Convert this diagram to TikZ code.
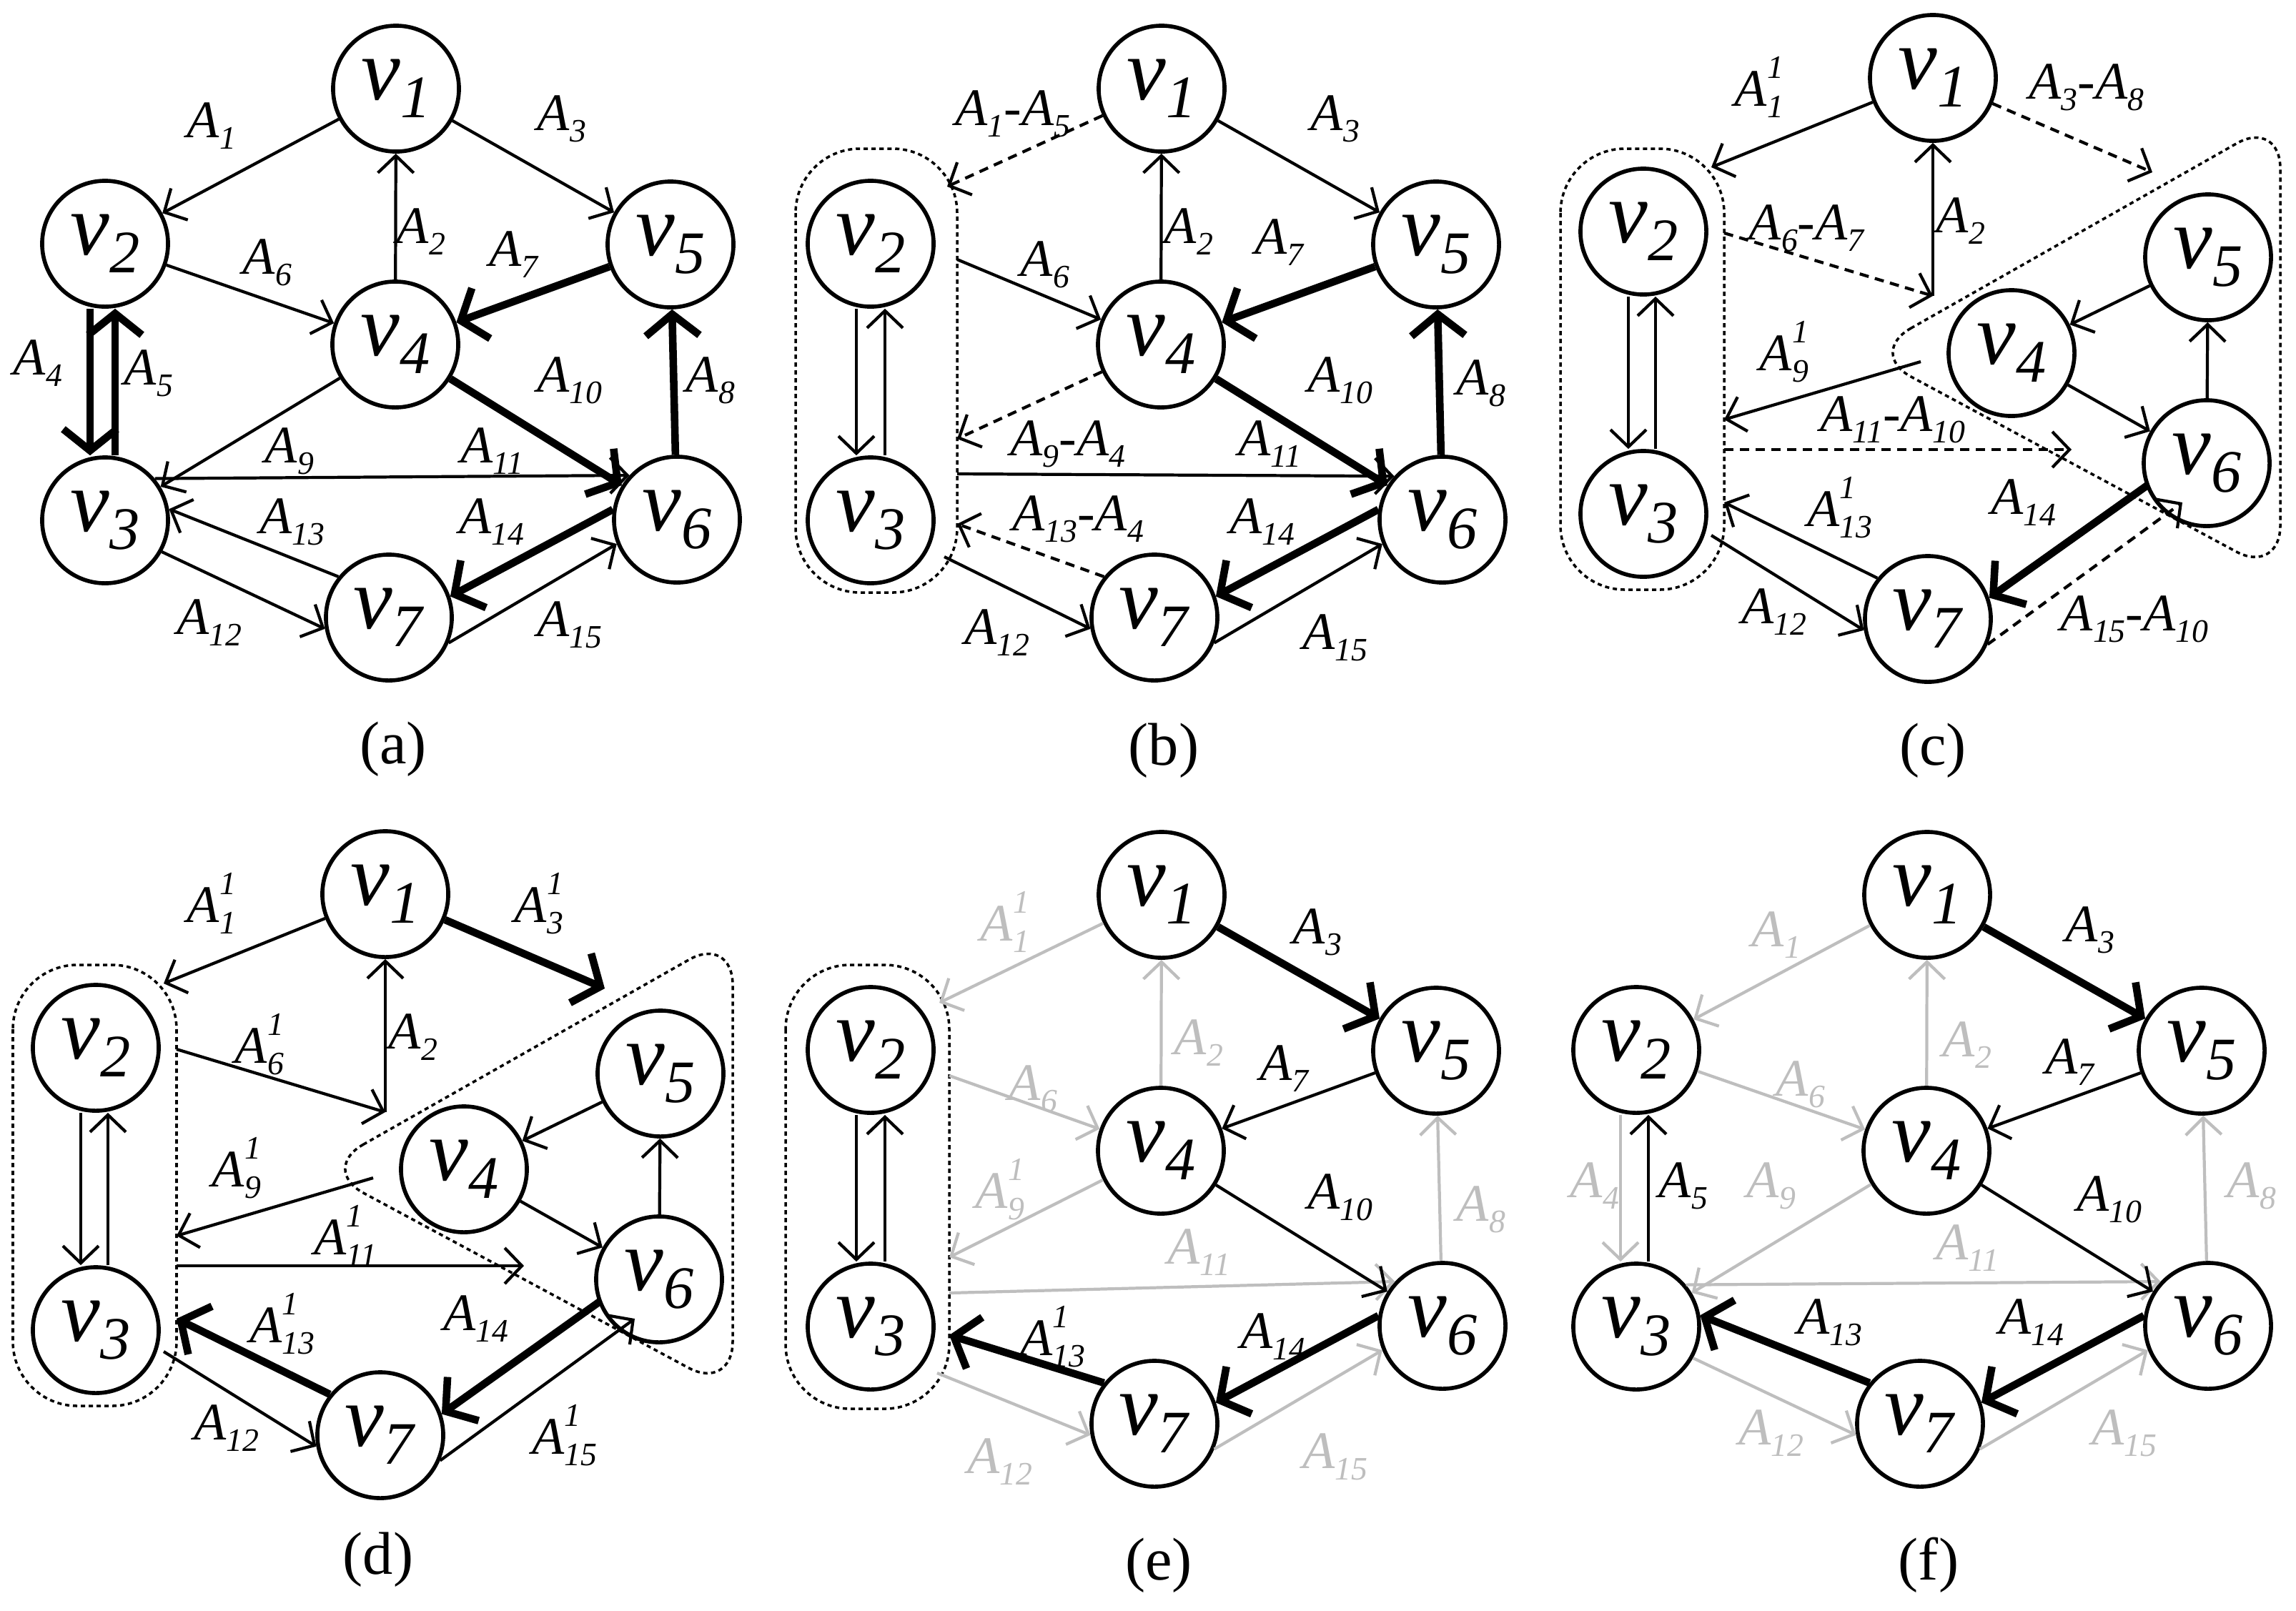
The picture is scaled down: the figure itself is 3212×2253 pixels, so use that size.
\documentclass[tikz,border=0pt]{standalone}
\usepackage{fontspec}
\setmainfont{LiberationSerif}[Extension=.ttf,UprightFont=*-Regular,ItalicFont=*-Italic,BoldFont=*-Bold,BoldItalicFont=*-BoldItalic]
\usetikzlibrary{arrows.meta}
\definecolor{lg}{RGB}{190,190,190}
\newcommand\vv[1]{\textit{v}\raisebox{-7pt}{\fontsize{24}{24}\selectfont\textit{#1}}}
\newcommand\As[1]{\textit{A}\raisebox{-4.5pt}{\fontsize{13}{13}\selectfont\textit{#1}}}
\newcommand\Ass[1]{\textit{A}\makebox[0pt][l]{\raisebox{11pt}{\fontsize{13}{13}\selectfont\textit{1}}}\raisebox{-4.5pt}{\fontsize{13}{13}\selectfont\textit{#1}}}
\tikzset{
 vn/.style={circle,draw,line width=1.6pt,minimum size=1.76cm,inner sep=0pt,font=\fontsize{35}{35}\selectfont},
 lab/.style={font=\fontsize{21}{21}\selectfont,inner sep=1pt},
 gl/.style={lab,text=lg},
 e/.style={line width=1.2pt,-{Straight Barb[length=0.24cm,width=0.5cm]}},
 te/.style={line width=3pt,-{Straight Barb[length=0.3cm,width=0.75cm]}},
 de/.style={e,dash pattern=on 0.13cm off 0.09cm},
 ge/.style={e,draw=lg},
 grp/.style={draw,line width=1pt,dash pattern=on 0.06cm off 0.05cm,rounded corners=0.9cm},
 plab/.style={font=\fontsize{24}{24}\selectfont},
}
\newcommand\nodesL[1]{%
 \node[vn] (#11) at (554,124) {\vv{1}};
 \node[vn] (#12) at (147,341) {\vv{2}};
 \node[vn] (#15) at (938,342) {\vv{5}};
 \node[vn] (#14) at (553,482) {\vv{4}};
 \node[vn] (#13) at (147,728) {\vv{3}};
 \node[vn] (#16) at (947,727) {\vv{6}};
 \node[vn] (#17) at (544,864) {\vv{7}};}
\begin{document}
\begin{tikzpicture}[x=0.01cm,y=-0.01cm]
\useasboundingbox (0,0) rectangle (3212,2253);
% ---------- (a)
\begin{scope}
\nodesL{a}
\draw[e] (a1) -- (a2); \node[lab] (aA1) at (296,176) {\As{1}};
\draw[e] (a1) -- (a5); \node[lab] (aA3) at (786,166) {\As{3}};
\draw[e] (a4) -- (a1); \node[lab] (aA2) at (589,324) {\As{2}};
\draw[e] (a2) -- (a4); \node[lab] (aA6) at (374,367) {\As{6}};
\draw[te] (a5) -- (a4); \node[lab] (aA7) at (719,356) {\As{7}};
\draw[te] ([xshift=-0.21cm]a2.south) -- ([xshift=-0.21cm]a3.north); \node[lab] (aA4) at (53,508) {\As{4}};
\draw[te] ([xshift=0.14cm]a3.north) -- ([xshift=0.14cm]a2.south); \node[lab] (aA5) at (208,522) {\As{5}};
\draw[te] (a4) -- (a6); \node[lab] (aA10) at (797,532) {\As{10}};
\draw[te] (a6) -- (a5); \node[lab] (aA8) at (994,532) {\As{8}};
\draw[e] (a4) -- (a3); \node[lab] (aA9) at (405,631) {\As{9}};
\draw[e] (a3.40) -- (a6.137); \node[lab] (aA11) at (688,631) {\As{11}};
\draw[e] (a7.141) -- (a3.10); \node[lab] (aA13) at (409,730) {\As{13}};
\draw[e] (a3.-29) -- (a7.190); \node[lab] (aA12) at (293,871) {\As{12}};
\draw[te] (a6.171) -- (a7.19); \node[lab] (aA14) at (688,730) {\As{14}};
\draw[e] (a7.-23) -- (a6.202); \node[lab] (aA15) at (797,874) {\As{15}};
\end{scope}
% ---------- (b)
\begin{scope}[shift={(1071,0)}]
\nodesL{b}
\draw[grp] (42,208) rectangle (268,829);
\coordinate (bB1) at (254,261); \coordinate (bB2) at (268,363);
\coordinate (bB3) at (268,614); \coordinate (bB4) at (268,663);
\coordinate (bB5) at (268,733); \coordinate (bB6) at (250,779);
\draw[de] (b1) -- (bB1); \node[lab] (bA1) at (346,159) {\As{1}-\As{5}};
\draw[e] (b1) -- (b5); \node[lab] (bA3) at (797,166) {\As{3}};
\draw[e] (b4) -- (b1); \node[lab] (bA2) at (592,324) {\As{2}};
\draw[e] (bB2) -- (b4); \node[lab] (bA6) at (391,370) {\As{6}};
\draw[te] (b5) -- (b4); \node[lab] (bA7) at (719,339) {\As{7}};
\draw[te] (b4) -- (b6); \node[lab] (bA10) at (804,532) {\As{10}};
\draw[te] (b6) -- (b5); \node[lab] (bA8) at (1001,536) {\As{8}};
\draw[de] (b4) -- (bB3); \node[lab] (bA9) at (423,621) {\As{9}-\As{4}};
\draw[e] (bB4) -- (b6.138); \node[lab] (bA11) at (705,621) {\As{11}};
\draw[de] (b7.141) -- (bB5); \node[lab] (bA13) at (437,726) {\As{13}-\As{4}};
\draw[e] (bB6) -- (b7.190); \node[lab] (bA12) at (324,885) {\As{12}};
\draw[te] (b6.171) -- (b7.19); \node[lab] (bA14) at (695,730) {\As{14}};
\draw[e] (b7.-23) -- (b6.202); \node[lab] (bA15) at (797,892) {\As{15}};
\draw[e] ([xshift=-0.2cm]b2.south) -- ([xshift=-0.2cm]b3.north);
\draw[e] ([xshift=0.2cm]b3.north) -- ([xshift=0.2cm]b2.south);
\end{scope}
% ---------- (c)
\begin{scope}[shift={(2142,0)}]
\node[vn] (c1) at (562,109) {\vv{1}};
\node[vn] (c2) at (157,324) {\vv{2}};
\node[vn] (c5) at (947,360) {\vv{5}};
\node[vn] (c4) at (672,494) {\vv{4}};
\node[vn] (c6) at (945,648) {\vv{6}};
\node[vn] (c3) at (157,719) {\vv{3}};
\node[vn] (c7) at (555,866) {\vv{7}};
\draw[grp] (41,208) rectangle (270,825);
\draw[grp,rounded corners=0.7cm] (470,494) -- (1048,166) -- (1048,805) -- cycle;
\coordinate (cB1) at (252,234); \coordinate (cS0) at (869,241);
\coordinate (cS1) at (562,414); \coordinate (cB2) at (270,326);
\coordinate (cS2) at (545,506); \coordinate (cB3) at (270,587);
\coordinate (cB4) at (270,629); \coordinate (cS3) at (756,629);
\coordinate (cB5) at (270,703); \coordinate (cB6) at (252,749);
\coordinate (cS4) at (862,679); \coordinate (cS5) at (911,703);
\draw[e] (c1) -- (cB1); \node[lab] (cA1) at (319,122) {\Ass{1}};
\draw[de] (c1) -- (cS0); \node[lab] (cA3) at (777,122) {\As{3}-\As{8}};
\draw[e] (cS1) -- (c1); \node[lab] (cA2) at (601,309) {\As{2}};
\draw[de] (cB2) -- (cS1); \node[lab] (cA6) at (386,319) {\As{6}-\As{7}};
\draw[e] (cS2) -- (cB3); \node[lab] (cA9) at (354,492) {\Ass{9}};
\draw[de] (cB4) -- (cS3); \node[lab] (cA11) at (506,587) {\As{11}-\As{10}};
\draw[e] (c7.141) -- (cB5); \node[lab] (cA13) at (432,710) {\Ass{13}};
\draw[e] (cB6) -- (c7.190); \node[lab] (cA12) at (340,856) {\As{12}};
\draw[te] (cS4) -- (c7.19); \node[lab] (cA14) at (689,703) {\As{14}};
\draw[de] (c7.-23) -- (cS5); \node[lab] (cA15) at (844,866) {\As{15}-\As{10}};
\draw[e] (c5) -- (c4); \draw[e] (c4) -- (c6); \draw[e] (c6) -- (c5);
\draw[e] ([xshift=-0.21cm]c2.south) -- ([xshift=-0.21cm]c3.north);
\draw[e] ([xshift=0.17cm]c3.north) -- ([xshift=0.17cm]c2.south);
\end{scope}
% ---------- (d)
\begin{scope}[shift={(0,1128)}]
\node[vn] (d1) at (539,123) {\vv{1}};
\node[vn] (d2) at (134,338) {\vv{2}};
\node[vn] (d5) at (924,374) {\vv{5}};
\node[vn] (d4) at (649,508) {\vv{4}};
\node[vn] (d6) at (922,662) {\vv{6}};
\node[vn] (d3) at (134,733) {\vv{3}};
\node[vn] (d7) at (532,880) {\vv{7}};
\draw[grp] (18,222) rectangle (247,839);
\draw[grp,rounded corners=0.7cm] (447,508) -- (1025,180) -- (1025,819) -- cycle;
\coordinate (dB1) at (229,248); \coordinate (dS0) at (846,255);
\coordinate (dS1) at (539,428); \coordinate (dB2) at (247,340);
\coordinate (dS2) at (522,520); \coordinate (dB3) at (247,601);
\coordinate (dB4) at (247,643); \coordinate (dS3) at (733,643);
\coordinate (dB5) at (247,717); \coordinate (dB6) at (229,763);
\coordinate (dS4) at (839,693); \coordinate (dS5) at (888,717);
\draw[e] (d1) -- (dB1); \node[lab] (dA1) at (296,136) {\Ass{1}};
\draw[te] (d1) -- (dS0); \node[lab] (dA3) at (754,136) {\Ass{3}};
\draw[e] (dS1) -- (d1); \node[lab] (dA2) at (578,323) {\As{2}};
\draw[e] (dB2) -- (dS1); \node[lab] (dA6) at (363,333) {\Ass{6}};
\draw[e] (dS2) -- (dB3); \node[lab] (dA9) at (331,506) {\Ass{9}};
\draw[e] (dB4) -- (dS3); \node[lab] (dA11) at (483,601) {\Ass{11}};
\draw[te] (d7.141) -- (dB5); \node[lab] (dA13) at (395,724) {\Ass{13}};
\draw[e] (dB6) -- (d7.190); \node[lab] (dA12) at (317,870) {\As{12}};
\draw[te] (dS4) -- (d7.19); \node[lab] (dA14) at (666,717) {\As{14}};
\draw[e] (d7.-23) -- (dS5); \node[lab] (dA15) at (790,880) {\Ass{15}};
\draw[e] (d5) -- (d4); \draw[e] (d4) -- (d6); \draw[e] (d6) -- (d5);
\draw[e] ([xshift=-0.21cm]d2.south) -- ([xshift=-0.21cm]d3.north);
\draw[e] ([xshift=0.17cm]d3.north) -- ([xshift=0.17cm]d2.south);
\end{scope}
% ---------- (e)
\begin{scope}[shift={(1071,1128)}]
\nodesL{e}
\draw[grp] (28,222) rectangle (257,843);
\coordinate (eB1) at (243,275); \coordinate (eB2) at (257,377);
\coordinate (eB3) at (257,631); \coordinate (eB4) at (257,681);
\coordinate (eB5) at (257,740); \coordinate (eB6) at (240,793);
\draw[ge] (e1) -- (eB1); \node[gl] (eA1) at (335,162) {\Ass{1}};
\draw[ge] (e4) -- (e1); \node[gl] (eA2) at (606,331) {\As{2}};
\draw[ge] (eB2) -- (e4); \node[gl] (eA6) at (374,395) {\As{6}};
\draw[ge] (e4) -- (eB3); \node[gl] (eA9) at (328,536) {\Ass{9}};
\draw[ge] (e6) -- (e5); \node[gl] (eA8) at (1001,564) {\As{8}};
\draw[ge] (eB4) -- (e6.137); \node[gl] (eA11) at (606,624) {\As{11}};
\draw[ge] (eB6) -- (e7.190); \node[gl] (eA12) at (328,917) {\As{12}};
\draw[ge] (e7.-23) -- (e6.202); \node[gl] (eA15) at (797,910) {\As{15}};
\draw[te] (e1) -- (e5); \node[lab] (eA3) at (772,176) {\As{3}};
\draw[e] (e5) -- (e4); \node[lab] (eA7) at (726,367) {\As{7}};
\draw[e] (e4) -- (e6); \node[lab] (eA10) at (804,547) {\As{10}};
\draw[te] (e7.141) -- (eB5); \node[lab] (eA13) at (402,742) {\Ass{13}};
\draw[te] (e6.171) -- (e7.19); \node[lab] (eA14) at (710,742) {\As{14}};
\draw[e] ([xshift=-0.2cm]e2.south) -- ([xshift=-0.2cm]e3.north);
\draw[e] ([xshift=0.2cm]e3.north) -- ([xshift=0.2cm]e2.south);
\end{scope}
% ---------- (f)
\begin{scope}[shift={(2142,1128)}]
\nodesL{f}
\draw[ge] (f1) -- (f2); \node[gl] (fA1) at (343,180) {\As{1}};
\draw[ge] (f4) -- (f1); \node[gl] (fA2) at (610,334) {\As{2}};
\draw[ge] (f2) -- (f4); \node[gl] (fA6) at (377,389) {\As{6}};
\draw[ge] ([xshift=-0.22cm]f2.south) -- ([xshift=-0.22cm]f3.north); \node[gl] (fA4) at (89,531) {\As{4}};
\draw[ge] (f4) -- (f3); \node[gl] (fA9) at (336,531) {\As{9}};
\draw[ge] (f6) -- (f5); \node[gl] (fA8) at (1008,531) {\As{8}};
\draw[ge] (f3.40) -- (f6.137); \node[gl] (fA11) at (610,618) {\As{11}};
\draw[ge] (f3.-29) -- (f7.190); \node[gl] (fA12) at (336,877) {\As{12}};
\draw[ge] (f7.-23) -- (f6.202); \node[gl] (fA15) at (830,877) {\As{15}};
\draw[te] (f1) -- (f5); \node[lab] (fA3) at (782,173) {\As{3}};
\draw[e] (f5) -- (f4); \node[lab] (fA7) at (754,358) {\As{7}};
\draw[e] ([xshift=0.17cm]f3.north) -- ([xshift=0.17cm]f2.south); \node[lab] (fA5) at (213,531) {\As{5}};
\draw[e] (f4) -- (f6); \node[lab] (fA10) at (809,550) {\As{10}};
\draw[te] (f7.141) -- (f3.10); \node[lab] (fA13) at (418,722) {\As{13}};
\draw[te] (f6.171) -- (f7.19); \node[lab] (fA14) at (700,722) {\As{14}};
\end{scope}
% ---------- captions
\node[plab] (pa) at (550,1048) {(a)};
\node[plab] (pb) at (1628,1050) {(b)};
\node[plab] (pc) at (2704,1050) {(c)};
\node[plab] (pd) at (529,2182) {(d)};
\node[plab] (pe) at (1621,2190) {(e)};
\node[plab] (pf) at (2698,2190) {(f)};
\end{tikzpicture}
\end{document}
